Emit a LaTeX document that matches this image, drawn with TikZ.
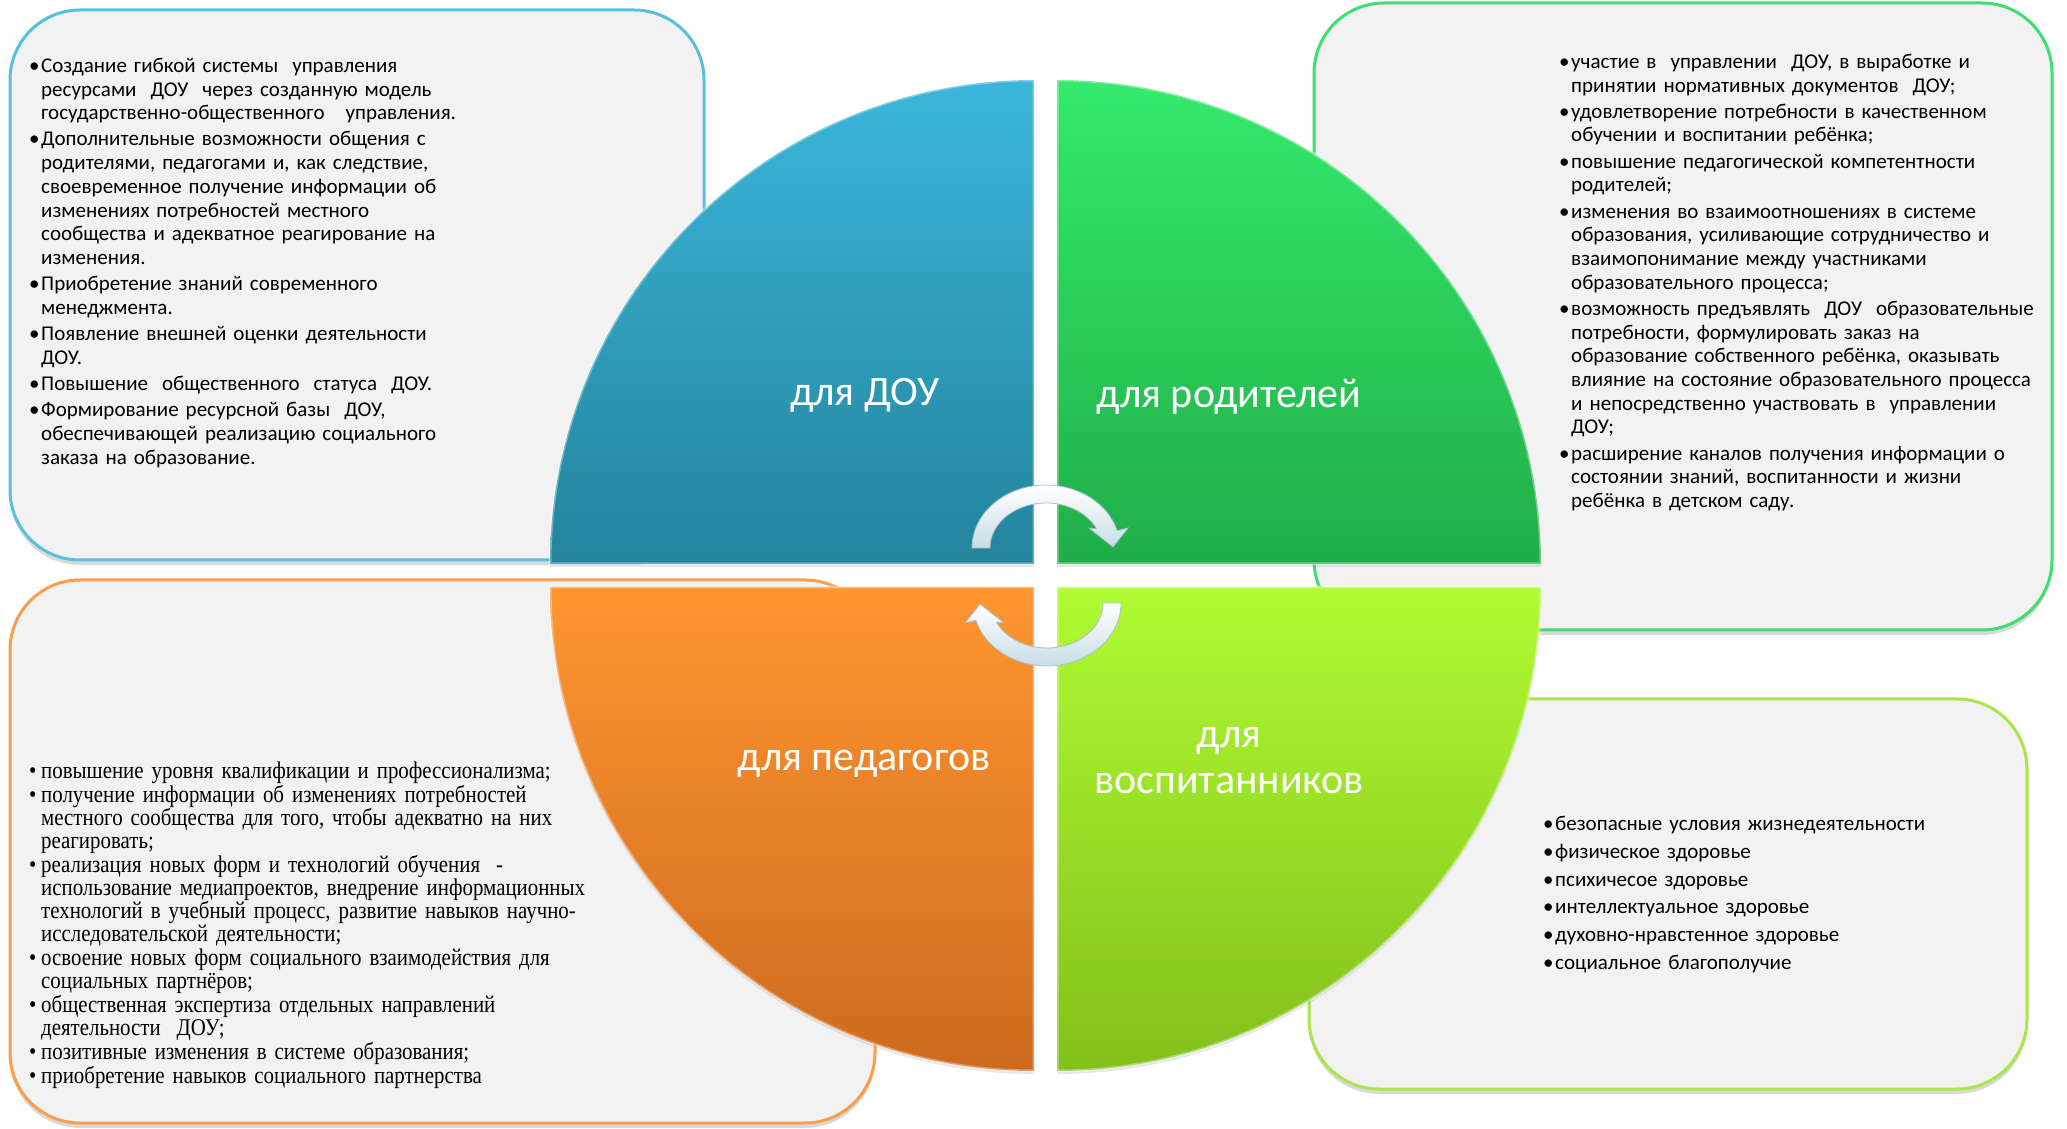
\documentclass[tikz,border=0pt]{standalone}
\usepackage{fontspec}
\setmainfont{Carlito}
\newfontfamily\timesfam[FakeStretch=0.87]{Liberation Serif}
\usetikzlibrary{shadows}

\definecolor{douTop}{HTML}{3BB6DA}
\definecolor{douBot}{HTML}{24849C}
\definecolor{parTop}{HTML}{34EA6C}
\definecolor{parBot}{HTML}{21AD49}
\definecolor{pedTop}{HTML}{FF9631}
\definecolor{pedBot}{HTML}{CD6A1E}
\definecolor{vosTop}{HTML}{B0FB33}
\definecolor{vosBot}{HTML}{82C01B}
\definecolor{boxFill}{HTML}{F2F2F2}
\definecolor{douLine}{HTML}{58C0DE}
\definecolor{parLine}{HTML}{3FDE6F}
\definecolor{pedLine}{HTML}{F89E4C}
\definecolor{vosLine}{HTML}{A8E64A}
\definecolor{arrLine}{HTML}{A6BFCC}
\definecolor{arrShade}{HTML}{C9DDE7}

\newcommand\bitem{\par\hangindent=12pt\hangafter=1\noindent\makebox[12pt][l]{\textbullet}}

\begin{document}
\begin{tikzpicture}[x=1pt,y=1pt]
	\tikzstyle{every node}=[inner sep=0pt]
	\tikzstyle{infobox}=[fill=boxFill, line width=3pt, rounded corners=70pt, drop shadow={opacity=0.3, shadow xshift=0pt, shadow yshift=-5pt}]
	\tikzstyle{quarter}=[drop shadow={opacity=0.2, shadow xshift=0pt, shadow yshift=-3pt}]
	\tikzstyle{bevel}=[draw=white, draw opacity=0.35, line width=3pt]
	\tikzstyle{itemlist}=[anchor=north west, align=left, text width=600pt, font=\fontsize{21}{23.7}\selectfont\setlength\parskip{2.5pt}]
	\tikzstyle{sectorname}=[text=white, align=center, font=\fontsize{42}{46}\selectfont]
	\tikzstyle{cyclearrow}=[top color=white, bottom color=arrShade, draw=arrLine, line width=0.8pt]
	
	\useasboundingbox (0,0) rectangle (2067,1128);
	
	% boxes behind the circle
	\draw[infobox, draw=douLine] (10,568) rectangle (704,1118);
	\draw[infobox, draw=parLine] (1314,498) rectangle (2052,1125);
	\draw[infobox, draw=pedLine] (10,5) rectangle (875,548);
	\draw[infobox, draw=vosLine] (1309,39) rectangle (2027,429);
	
	\node[itemlist] (douList) at (29,1082) {\bitem Создание гибкой системы\ \ управления\newline ресурсами\ \ ДОУ\ \ через созданную модель\newline государственно-общественного\ \ \ управления.
		\bitem Дополнительные возможности общения с\newline родителями, педагогами и, как следствие,\newline своевременное получение информации об\newline изменениях потребностей местного\newline сообщества и адекватное реагирование на\newline изменения.
		\bitem Приобретение знаний современного\newline менеджмента.
		\bitem Появление внешней оценки деятельности\newline ДОУ.
		\bitem Повышение\ \ общественного\ \ статуса\ \ ДОУ.
		\bitem Формирование ресурсной базы\ \ ДОУ,\newline обеспечивающей реализацию социального\newline заказа на образование.\par};
	
	\node[itemlist] (parList) at (1559,1086) {\bitem участие в\ \ управлении\ \ ДОУ, в выработке и\newline принятии нормативных документов\ \ ДОУ;
		\bitem удовлетворение потребности в качественном\newline обучении и воспитании ребёнка;
		\bitem повышение педагогической компетентности\newline родителей;
		\bitem изменения во взаимоотношениях в системе\newline образования, усиливающие сотрудничество и\newline взаимопонимание между участниками\newline образовательного процесса;
		\bitem возможность предъявлять\ \ ДОУ\ \ образовательные\newline потребности, формулировать заказ на\newline образование собственного ребёнка, оказывать\newline влияние на состояние образовательного процесса\newline и непосредственно участвовать в\ \ управлении\newline ДОУ;
		\bitem расширение каналов получения информации о\newline состоянии знаний, воспитанности и жизни\newline ребёнка в детском саду.\par};
	
	\node[itemlist, font=\timesfam\fontsize{24}{23}\selectfont\setlength\parskip{1pt}] (pedList) at (29,374) {\bitem повышение уровня квалификации и профессионализма;
		\bitem получение информации об изменениях потребностей\newline местного сообщества для того, чтобы адекватно на них\newline реагировать;
		\bitem реализация новых форм и технологий обучения\ \ -\newline использование медиапроектов, внедрение информационных\newline технологий в учебный процесс, развитие навыков научно-\newline исследовательской деятельности;
		\bitem освоение новых форм социального взаимодействия для\newline социальных партнёров;
		\bitem общественная экспертиза отдельных направлений\newline деятельности\ \ ДОУ;
		\bitem позитивные изменения в системе образования;
		\bitem приобретение навыков социального партнерства\par};
	
	\node[itemlist, font=\fontsize{21}{23.7}\selectfont\setlength\parskip{4pt}] (vosList) at (1543,325) {\bitem безопасные условия жизнедеятельности
		\bitem физическое здоровье
		\bitem психичесое здоровье
		\bitem интеллектуальное здоровье
		\bitem духовно-нравстенное здоровье
		\bitem социальное благополучие\par};
	
	% the four quarters
	\path[quarter, top color=douTop, bottom color=douBot] (1034,564) -- (550,564) arc[start angle=180, end angle=90, radius=484] -- cycle;
	\path[quarter, top color=parTop, bottom color=parBot] (1057,564) -- (1057,1048) arc[start angle=90, end angle=0, radius=484] -- cycle;
	\path[quarter, top color=pedTop, bottom color=pedBot] (1034,541) -- (1034,57) arc[start angle=270, end angle=180, radius=484] -- cycle;
	\path[quarter, top color=vosTop, bottom color=vosBot] (1057,541) -- (1541,541) arc[start angle=0, end angle=-90, radius=484] -- cycle;
	\draw[bevel] (1034,564) -- (550,564) arc[start angle=180, end angle=90, radius=484] -- cycle;
	\draw[bevel] (1057,564) -- (1057,1048) arc[start angle=90, end angle=0, radius=484] -- cycle;
	\draw[bevel] (1034,541) -- (1034,57) arc[start angle=270, end angle=180, radius=484] -- cycle;
	\draw[bevel] (1057,541) -- (1541,541) arc[start angle=0, end angle=-90, radius=484] -- cycle;
	
	\node[sectorname, anchor=base] (dou) at (865,722) {для ДОУ};
	\node[sectorname, anchor=base] (par) at (1229,720) {для родителей};
	\node[sectorname, anchor=base] (ped) at (864,357) {для педагогов};
	\node[sectorname] (vos) at (1229,367) {для\\воспитанников};
	
	% cycle arrows
	\begin{scope}[shift={(1046,580)}]
	\path[cyclearrow] (-74,0) arc[start angle=180, end angle=16, x radius=74, y radius=63] -- (82,20) -- (67,1) -- (43,20) -- (25:56 and 45) arc[start angle=25, end angle=180, x radius=56, y radius=45] -- cycle;
	\end{scope}
	\begin{scope}[shift={(1047,525)}, rotate=180]
	\path[cyclearrow] (-74,0) arc[start angle=180, end angle=16, x radius=74, y radius=63] -- (82,20) -- (67,1) -- (43,20) -- (25:56 and 45) arc[start angle=25, end angle=180, x radius=56, y radius=45] -- cycle;
	\end{scope}
	
\end{tikzpicture}
\end{document}
